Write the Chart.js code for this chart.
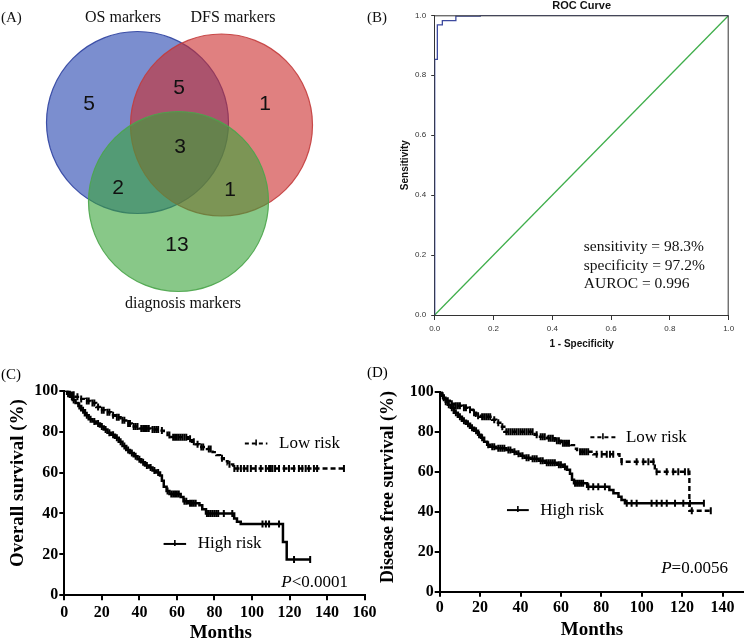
<!DOCTYPE html>
<html>
<head>
<meta charset="utf-8">
<title>Figure</title>
<script src="https://cdn.jsdelivr.net/npm/chart.js@4.4.1/dist/chart.umd.min.js"></script>
<style>
  html, body { margin:0; padding:0; background:#ffffff; }
  body { position:relative; width:745px; height:641px; overflow:hidden; }
  canvas { position:absolute; }
</style>
</head>
<body>
<canvas id="venn" width="372" height="320" style="left:0px;top:0px;"></canvas>
<canvas id="roc" width="383" height="360" style="left:362px;top:0px;"></canvas>
<canvas id="os" width="380" height="301" style="left:0px;top:340px;"></canvas>
<canvas id="dfs" width="383" height="301" style="left:362px;top:340px;"></canvas>
<script>
// ================= DATA =================
// (A) Venn diagram
const vennSetNames = ["OS markers", "DFS markers", "diagnosis markers"];
const vennRegionNames = ["OS only", "OS & DFS", "DFS only", "OS & DFS & diagnosis", "OS & diagnosis", "DFS & diagnosis", "diagnosis only"];
const vennCounts = [5, 5, 1, 3, 2, 1, 13];

// (B) ROC curve
const rocFPR = [0, 0, 0.009, 0.026, 0.072, 0.155, 1];
const rocTPR = [0, 0.853, 0.968, 0.982, 0.997, 1, 1];
const refLine = [0, 1];
const rocTicks = [0, 0.2, 0.4, 0.6, 0.8, 1.0];
const rocStats = ["sensitivity = 98.3%", "specificity = 97.2%", "AUROC = 0.996"];

// (C) Overall survival (months, % surviving after each drop; censoring times)
const osLowTime  = [0, 2, 4, 6, 8, 11, 14, 17, 19, 22, 25, 27, 30, 33, 36, 40, 46, 51, 53, 55, 57, 66, 68, 70, 72, 76, 79, 81, 83, 85, 87, 90];
const osLowSurv  = [100, 99, 98, 97, 96, 95, 94, 92, 90.5, 89.5, 88, 87, 85.5, 84, 82.5, 81.5, 81, 80.5, 79.5, 78.3, 77.3, 76.5, 75, 73.8, 72.5, 71.5, 70, 68.5, 67, 65.5, 64, 62];
const osLowCensor = [3, 5, 7, 9, 12, 13, 15, 16, 18, 20, 21, 23, 24, 26, 28, 29, 31, 32, 34, 35, 37, 38, 39, 41, 42, 43, 44, 45, 47, 48, 49, 50, 52, 56, 58, 59, 60, 61, 62, 63, 64, 65, 67, 69, 71, 73, 74, 77, 78, 84, 88, 90.6, 92.3, 94.1, 95.8, 97.6, 99.4, 102, 104.7, 107.4, 109.1, 110, 110.9, 112.3, 114.4, 117.1, 119.7, 122.4, 125, 126.8, 128.6, 130.3, 133, 134.7, 149];
const osHighTime = [0, 1.5, 3, 4.5, 6, 7.5, 9, 11, 13, 15, 17, 19, 21, 23, 25, 27, 29, 31, 33, 35, 37, 39, 41, 43, 45, 47, 49, 51, 52, 53, 54.5, 56, 62, 63.5, 66, 72, 73.5, 75.5, 90.5, 92, 94, 116.5, 118.5];
const osHighSurv = [100, 98.5, 97, 95.5, 94, 92.5, 90.5, 88, 86, 85, 84, 82.5, 81, 79.5, 78.5, 77, 75, 73, 71, 69.5, 68, 66.5, 65, 63.5, 62.5, 61, 60, 58.5, 56, 53, 51, 49.5, 48, 46, 45, 44, 42, 40, 37.5, 36, 34.8, 26, 17.5];
const osHighCensor = [2, 4, 5, 8, 10, 12, 14, 16, 18, 20, 22, 24, 26, 28, 30, 32, 34, 36, 38, 40, 42, 44, 46, 48, 50, 55, 57, 58, 59, 60, 61, 64, 65, 67, 68, 69, 70, 76, 77, 78, 79, 80, 81, 82, 85, 89.5, 105.6, 107.4, 109.1, 114.4, 122.4, 131];
const osXTicks = [0, 20, 40, 60, 80, 100, 120, 140, 160];
const osPText = "<0.0001";

// (D) Disease free survival
const dfsLowTime  = [0, 1, 2, 3.5, 5, 7, 11, 14, 16.5, 18, 20, 26, 28, 30, 32, 47, 49, 53, 57, 60, 65, 66.5, 68, 76, 89, 90, 106.5, 123.6];
const dfsLowSurv  = [100, 98.5, 97, 95.5, 94, 93, 92, 91, 89.5, 88, 87.5, 86, 84.5, 82.5, 80, 78.5, 77.5, 76.7, 75.5, 74.2, 73.3, 71.5, 70, 68.7, 67, 65, 60, 40.5];
const dfsLowCensor = [2, 4, 6, 8, 9, 10, 12, 13, 15, 17, 19, 21, 22, 23, 24, 25, 27, 29, 31, 33, 34, 35, 36, 37, 38, 39, 40, 41, 42, 43, 44, 45, 46, 48, 50, 51, 52, 54, 55, 56, 58, 59, 61, 62, 63, 64, 69.5, 70.5, 71.5, 72.5, 73.5, 77.7, 80.2, 82.7, 84.3, 85.9, 90.1, 97.5, 100.8, 103.3, 105.8, 107.4, 112.4, 115.6, 118.1, 121.4, 123.1, 124.8, 134.2];
const dfsHighTime = [0, 1, 2, 3, 4, 5.5, 7, 9, 11, 13, 15, 17, 19, 20.5, 22, 23.5, 25, 28, 33, 36, 38, 40, 42, 45, 49, 52, 58, 61, 63, 64.5, 65.5, 66.5, 73, 84, 86, 88.5, 90, 91.7];
const dfsHighSurv = [100, 98, 96.5, 95, 93.5, 92, 89.5, 87.5, 85.5, 84, 82, 80.5, 78.5, 77, 75, 73.5, 72.5, 71.7, 70.8, 70, 69, 68, 67, 66.5, 65.5, 64.5, 63.5, 62.5, 61, 59, 56, 54.2, 52.5, 50.8, 49.2, 47.5, 45.8, 44.2];
const dfsHighCensor = [1.5, 3, 4.5, 6, 8, 10, 12, 14, 16, 18, 19.5, 21, 24, 26, 27, 29, 30, 31, 32, 34, 35, 37, 39, 41, 43, 44, 46, 47, 48, 50, 51, 53, 54, 55, 56, 57, 59, 60, 62, 67, 68, 69, 70, 71, 73.6, 76, 78.5, 81.8, 92.6, 95, 97.5, 104.9, 107.4, 109.9, 112.4, 116.5, 120.6, 123.9, 130.8];
const dfsXTicks = [0, 20, 40, 60, 80, 100, 120, 140];
const dfsPText = "=0.0056";

const kmYTicks = [0, 20, 40, 60, 80, 100];
const groupNames = ["Low risk", "High risk"];

// ================= LAYOUT / STYLE =================
const SERIF = "'Liberation Serif', 'Times New Roman', serif";
const SANS = "'Liberation Sans', Arial, sans-serif";

const vennCircles = [
  { cx: 137.5, cy: 122.5, r: 91, fill: 'rgba(35,67,175,0.6)',  edge: 'rgba(45,65,160,0.9)',  order: 3 },
  { cx: 221.5, cy: 125,   r: 91, fill: 'rgba(203,43,43,0.6)',  edge: 'rgba(195,60,60,0.9)',  order: 2 },
  { cx: 178.5, cy: 201.5, r: 90, fill: 'rgba(57,163,57,0.6)',  edge: 'rgba(75,165,75,0.9)',  order: 1 }
];
const vennCountPos = [[89,104],[179,88],[265,104],[180,147],[118,188],[230,190],[177,245]];
const vennNamePos = [[123,18],[233,18],[183,304]];

Chart.defaults.font.family = SANS;
Chart.defaults.animation = false;
Chart.defaults.responsive = false;
Chart.defaults.events = [];
Chart.defaults.plugins.legend.display = false;
Chart.defaults.plugins.tooltip.enabled = false;

function pts(xs, ys) { return xs.map((x, i) => ({ x: x, y: ys[i] })); }
function survAt(times, surv, t) { let v = surv[0]; for (let i = 0; i < times.length; i++) { if (times[i] <= t) v = surv[i]; } return v; }
function kmLine(times, surv, censor) {
  const p = pts(times, surv);
  const end = Math.max.apply(null, censor);
  if (end > times[times.length - 1]) p.push({ x: end, y: surv[surv.length - 1] });
  return p;
}
function censorPts(times, surv, censor) { return censor.map(t => ({ x: t, y: survAt(times, surv, t) })); }

// ================= (A) VENN =================
const vennText = {
  id: 'vennText',
  afterDatasetsDraw(chart) {
    const ctx = chart.ctx, xs = chart.scales.x, ys = chart.scales.y;
    ctx.save();
    ctx.fillStyle = '#111';
    ctx.textAlign = 'center';
    ctx.textBaseline = 'middle';
    ctx.font = "21px " + SANS;
    vennCounts.forEach((c, i) => {
      const p = vennCountPos[i];
      ctx.fillText(String(c), xs.getPixelForValue(p[0]), ys.getPixelForValue(p[1]));
    });
    ctx.font = "16px " + SERIF;
    vennSetNames.forEach((n, i) => {
      const p = vennNamePos[i];
      ctx.fillText(n, xs.getPixelForValue(p[0]), ys.getPixelForValue(p[1]));
    });
    ctx.textAlign = 'left';
    ctx.font = "15px " + SERIF;
    ctx.fillText("(A)", 1, 18);
    ctx.restore();
  }
};

new Chart(document.getElementById('venn'), {
  type: 'bubble',
  data: {
    datasets: vennCircles.map((c, i) => ({
      label: vennSetNames[i],
      data: [{ x: c.cx, y: c.cy, r: c.r }],
      backgroundColor: c.fill,
      borderColor: c.edge,
      borderWidth: 1.2,
      order: c.order,
      clip: false
    }))
  },
  options: {
    devicePixelRatio: 1,
    layout: { padding: 0, autoPadding: false },
    scales: {
      x: { type: 'linear', min: 0, max: 372, display: false },
      y: { type: 'linear', min: 0, max: 320, reverse: true, display: false }
    }
  },
  plugins: [vennText]
});

// ================= (B) ROC =================
const rocDecor = {
  id: 'rocDecor',
  afterDraw(chart) {
    const ctx = chart.ctx, a = chart.chartArea, xs = chart.scales.x, ys = chart.scales.y;
    ctx.save();
    ctx.strokeStyle = '#333';
    ctx.lineWidth = 1;
    ctx.beginPath();
    ctx.moveTo(a.left, a.top + 0.5); ctx.lineTo(a.right - 0.5, a.top + 0.5); ctx.lineTo(a.right - 0.5, a.bottom);
    ctx.stroke();
    ctx.fillStyle = '#111';
    ctx.textBaseline = 'middle';
    ctx.textAlign = 'center';
    ctx.font = "bold 11px " + SANS;
    ctx.fillText("ROC Curve", (a.left + a.right) / 2, 6);
    ctx.textAlign = 'left';
    ctx.font = "15.5px " + SERIF;
    const sy = [0.227, 0.163, 0.103];
    rocStats.forEach((s, i) => ctx.fillText(s, xs.getPixelForValue(0.507), ys.getPixelForValue(sy[i])));
    ctx.font = "15px " + SERIF;
    ctx.fillText("(B)", 5, 18);
    ctx.restore();
  }
};

const rocTickFont = { family: SANS, size: 8 };
new Chart(document.getElementById('roc'), {
  type: 'scatter',
  data: {
    datasets: [
      { label: 'ROC', data: pts(rocFPR, rocTPR), showLine: true, stepped: true, borderColor: '#3d4a9e', borderWidth: 1.3, pointRadius: 0 },
      { label: 'Reference', data: pts(refLine, refLine), showLine: true, borderColor: '#3fae4b', borderWidth: 1.3, pointRadius: 0 }
    ]
  },
  options: {
    devicePixelRatio: 1,
    layout: { padding: { left: 0, top: 15.3, right: 16.3, bottom: 0 }, autoPadding: false },
    scales: {
      x: {
        type: 'linear', min: 0, max: 1,
        afterBuildTicks: s => { s.ticks = rocTicks.map(v => ({ value: v })); },
        afterFit: s => { s.height = 45; },
        ticks: { font: rocTickFont, color: '#333', padding: 4, maxRotation: 0, callback: v => Number(v).toFixed(1) },
        grid: { drawOnChartArea: false, tickLength: 5, color: '#333', lineWidth: 1 },
        border: { color: '#333', width: 1 },
        title: { display: true, text: '1 - Specificity', color: '#111', font: { family: SANS, size: 10, weight: 'bold' }, padding: { top: 0, bottom: 10 } }
      },
      y: {
        type: 'linear', min: 0, max: 1,
        afterBuildTicks: s => { s.ticks = rocTicks.map(v => ({ value: v })); },
        afterFit: s => { s.width = 72.7; },
        ticks: { font: rocTickFont, color: '#333', padding: 5, callback: v => Number(v).toFixed(1) },
        grid: { drawOnChartArea: false, tickLength: 3.5, color: '#333', lineWidth: 1 },
        border: { color: '#333', width: 1 },
        title: { display: true, text: 'Sensitivity', color: '#111', font: { family: SANS, size: 10, weight: 'bold' }, padding: { top: 37, bottom: 0 } }
      }
    }
  },
  plugins: [rocDecor]
});

// ================= (C) & (D) Kaplan-Meier =================
function legendSym(ctx, x1, x2, y, dashed) {
  ctx.save();
  ctx.strokeStyle = '#000';
  ctx.lineWidth = 2;
  ctx.setLineDash(dashed ? [4, 3] : []);
  ctx.beginPath(); ctx.moveTo(x1, y); ctx.lineTo(x2, y); ctx.stroke();
  ctx.setLineDash([]);
  ctx.lineWidth = 1.6;
  const xm = (x1 + x2) / 2;
  ctx.beginPath(); ctx.moveTo(xm, y - 4); ctx.lineTo(xm, y + 2); ctx.stroke();
  ctx.restore();
}
function drawP(ctx, xRight, y, rest) {
  ctx.save();
  ctx.fillStyle = '#000';
  ctx.textBaseline = 'middle';
  ctx.textAlign = 'left';
  ctx.font = "italic 17px " + SERIF; const wP = ctx.measureText('P').width;
  ctx.font = "17px " + SERIF; const wR = ctx.measureText(rest).width;
  const x0 = xRight - wP - wR;
  ctx.font = "italic 17px " + SERIF; ctx.fillText('P', x0, y);
  ctx.font = "17px " + SERIF; ctx.fillText(rest, x0 + wP, y);
  ctx.restore();
}

function kmDecor(cfg) {
  return {
    id: 'kmDecor',
    afterDraw(chart) {
      const ctx = chart.ctx, xs = chart.scales.x, ys = chart.scales.y;
      ctx.save();
      ctx.fillStyle = '#000';
      ctx.textBaseline = 'middle';
      ctx.textAlign = 'left';
      ctx.font = "15px " + SERIF;
      ctx.fillText(cfg.panel, cfg.panelPos[0], cfg.panelPos[1]);
      ctx.textAlign = 'center';
      ctx.font = "bold 19px " + SERIF;
      ctx.fillText("Months", cfg.xTitlePos[0], cfg.xTitlePos[1]);
      ctx.save();
      ctx.translate(cfg.yTitlePos[0], cfg.yTitlePos[1]);
      ctx.rotate(-Math.PI / 2);
      ctx.font = "bold " + cfg.yTitleSize + "px " + SERIF;
      ctx.fillText(cfg.yTitle, 0, 0);
      ctx.restore();
      const L = cfg.legLow, H = cfg.legHigh;
      legendSym(ctx, xs.getPixelForValue(L[0]), xs.getPixelForValue(L[1]), ys.getPixelForValue(L[2]), true);
      legendSym(ctx, xs.getPixelForValue(H[0]), xs.getPixelForValue(H[1]), ys.getPixelForValue(H[2]), false);
      ctx.textAlign = 'left';
      ctx.font = "17px " + SERIF;
      ctx.fillText(groupNames[0], xs.getPixelForValue(L[3]), ys.getPixelForValue(L[2]));
      ctx.fillText(groupNames[1], xs.getPixelForValue(H[3]), ys.getPixelForValue(H[2]));
      ctx.restore();
      drawP(ctx, xs.getPixelForValue(cfg.pPos[0]), ys.getPixelForValue(cfg.pPos[1]), cfg.pText);
    }
  };
}

function kmChart(id, d) {
  const tickFont = { family: SERIF, size: 16, weight: 'bold' };
  return new Chart(document.getElementById(id), {
    type: 'scatter',
    data: {
      datasets: [
        { label: groupNames[0], data: kmLine(d.lowT, d.lowS, d.lowC), showLine: true, stepped: true, borderColor: '#000', borderWidth: 2.4, borderDash: [5, 3], pointRadius: 0 },
        { label: groupNames[1], data: kmLine(d.highT, d.highS, d.highC), showLine: true, stepped: true, borderColor: '#000', borderWidth: 2.5, pointRadius: 0 },
        { label: groupNames[0] + ' censored', data: censorPts(d.lowT, d.lowS, d.lowC), showLine: false, pointStyle: 'line', rotation: 90, pointRadius: 3.5, borderColor: '#000', borderWidth: 2, backgroundColor: '#000' },
        { label: groupNames[1] + ' censored', data: censorPts(d.highT, d.highS, d.highC), showLine: false, pointStyle: 'line', rotation: 90, pointRadius: 3.5, borderColor: '#000', borderWidth: 2, backgroundColor: '#000' }
      ]
    },
    options: {
      devicePixelRatio: 1,
      layout: { padding: d.padding, autoPadding: false },
      scales: {
        x: {
          type: 'linear', min: 0, max: d.xMax,
          afterBuildTicks: s => { s.ticks = d.xTicks.map(v => ({ value: v })); },
          afterFit: s => { s.height = d.xHeight; },
          ticks: { font: tickFont, color: '#000', padding: d.xPad, maxRotation: 0, autoSkip: false },
          grid: { drawOnChartArea: false, tickLength: 5, color: '#000', lineWidth: 2 },
          border: { color: '#000', width: 2 }
        },
        y: {
          type: 'linear', min: 0, max: 100,
          afterBuildTicks: s => { s.ticks = kmYTicks.map(v => ({ value: v })); },
          afterFit: s => { s.width = d.yWidth; },
          ticks: { font: tickFont, color: '#000', padding: 1 },
          grid: { drawOnChartArea: false, tickLength: 5, color: '#000', lineWidth: 2 },
          border: { color: '#000', width: 2 }
        }
      }
    },
    plugins: [kmDecor(d.decor)]
  });
}

kmChart('os', {
  lowT: osLowTime, lowS: osLowSurv, lowC: osLowCensor,
  highT: osHighTime, highS: osHighSurv, highC: osHighCensor,
  xMax: 160, xTicks: osXTicks,
  padding: { left: 0, top: 50.7, right: 14, bottom: 0 },
  yWidth: 64.3, xHeight: 45.7, xPad: 3.4,
  decor: {
    panel: "(C)", panelPos: [1, 35],
    xTitlePos: [220.8, 293], yTitlePos: [18.3, 143], yTitle: "Overall survival (%)", yTitleSize: 19,
    legLow: [96.2, 108.2, 74.2, 114.4], legHigh: [52.9, 64.9, 25.1, 71.1],
    pPos: [151.2, 6.2], pText: osPText
  }
});

kmChart('dfs', {
  lowT: dfsLowTime, lowS: dfsLowSurv, lowC: dfsLowCensor,
  highT: dfsHighTime, highS: dfsHighSurv, highC: dfsHighCensor,
  xMax: 150, xTicks: dfsXTicks,
  padding: { left: 0, top: 51.7, right: 2.3, bottom: 0 },
  yWidth: 77.7, xHeight: 49.3, xPad: 2,
  decor: {
    panel: "(D)", panelPos: [5, 33],
    xTitlePos: [230, 290], yTitlePos: [26.7, 147], yTitle: "Disease free survival (%)", yTitleSize: 18,
    legLow: [74.6, 87, 77.2, 92.2], legHigh: [33.3, 44.1, 40.8, 49.8],
    pPos: [142.7, 11.7], pText: dfsPText
  }
});
</script>
</body>
</html>
